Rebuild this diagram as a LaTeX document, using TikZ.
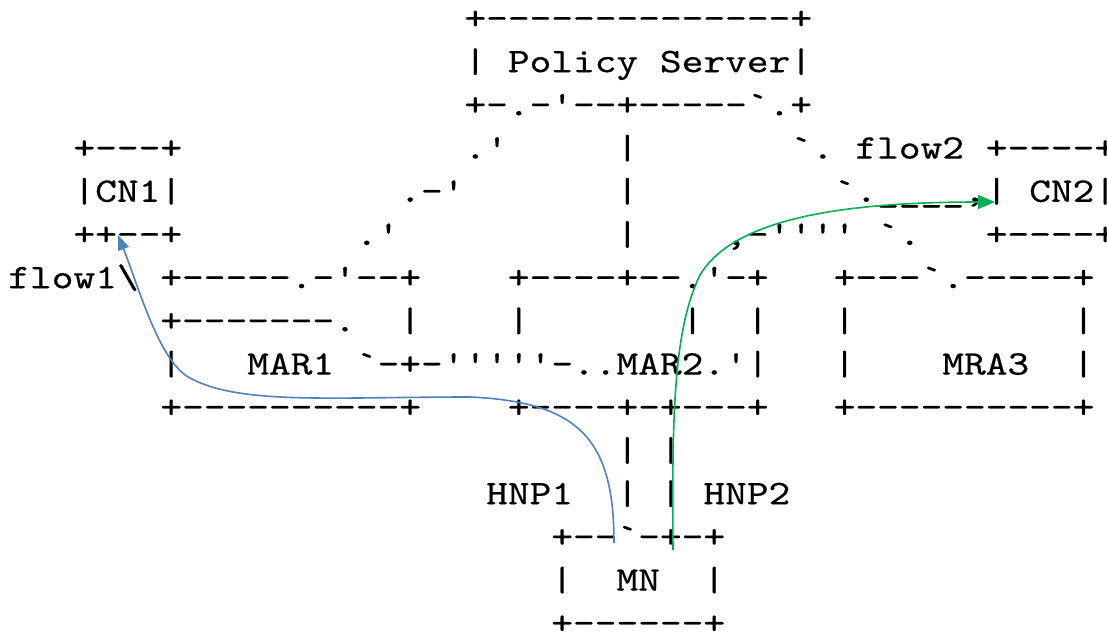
\documentclass[tikz,border=0pt]{standalone}
\usepackage{fontspec}
\setmonofont{lmmono10-regular.otf}[FakeBold=0.4]
\usetikzlibrary{arrows.meta}
\definecolor{flowblue}{HTML}{4F81BD}
\definecolor{flowgreen}{HTML}{00B050}
\tikzset{
  asc/.style={anchor=base west, inner sep=0pt, outer sep=0pt,
    font=\ttfamily\fontsize{34.48}{40}\selectfont},
  flowline/.style={line width=1.6pt},
  bluetip/.style={-{Triangle[length=15pt,width=11pt]}},
  greentip/.style={-{Triangle[length=17pt,width=14pt]}}
}
\newcommand\seg[4]{\node[asc] (#1) at ({8.34+21.72*#2},{29+43.2*#3}) {\scalebox{1.2}[1]{#4}};}
\begin{document}
\begin{tikzpicture}[x=1pt,y=-1pt]
\useasboundingbox (0,0) rectangle (1107,634);
% Policy Server
\seg{ps0}{21}{0}{+--------------+}
\seg{ps1}{21}{1}{|~Policy~Server|}
\seg{ps2}{21}{2}{+-.-'--+-----`.+}
% row 3
\seg{cn1a}{3}{3}{+---+}
\seg{l3a}{21}{3}{.'}
\seg{l3b}{28}{3}{|}
\seg{l3c}{36}{3}{`.}
\seg{fl2}{39}{3}{flow2}
\seg{cn2a}{45}{3}{+----+}
% row 4
\seg{cn1b}{3}{4}{|CN1|}
\seg{l4a}{18}{4}{.-'}
\seg{l4b}{28}{4}{|}
\seg{l4c}{38}{4}{`.\_\_\_\_,}
\seg{cn2b}{45}{4}{|~CN2|}
% row 5
\seg{cn1c}{3}{5}{++--+}
\seg{l5a}{16}{5}{.'}
\seg{l5b}{28}{5}{|}
\seg{l5c}{33}{5}{,-''''}
\seg{l5d}{40}{5}{`.}
\seg{cn2c}{45}{5}{+----+}
% row 6
\seg{fl1}{0}{6}{flow1\textbackslash}
\seg{mar1a}{7}{6}{+-----.-'--+}
\seg{mar2a}{23}{6}{+----+--.'-+}
\seg{mra3a}{38}{6}{+---`.-----+}
% row 7
\seg{mar1b}{7}{7}{+-------.}
\seg{l7a}{18}{7}{|}
\seg{l7b}{23}{7}{|}
\seg{l7c}{31}{7}{|}
\seg{l7d}{34}{7}{|}
\seg{l7e}{38}{7}{|}
\seg{l7f}{49}{7}{|}
% row 8
\seg{l8a}{7}{8}{|}
\seg{mar1}{11}{8}{MAR1}
\seg{mar2}{16}{8}{`-+-'''''-..MAR2.'|}
\seg{l8b}{38}{8}{|}
\seg{mra3}{43}{8}{MRA3}
\seg{l8c}{49}{8}{|}
% row 9
\seg{mar1c}{7}{9}{+----------+}
\seg{mar2c}{23}{9}{+----+-+---+}
\seg{mra3c}{38}{9}{+----------+}
% row 10-11
\seg{l10a}{28}{10}{|}
\seg{l10b}{30}{10}{|}
\seg{hnp1}{22}{11}{HNP1}
\seg{l11a}{28}{11}{|}
\seg{l11b}{30}{11}{|}
\seg{hnp2}{32}{11}{HNP2}
% MN
\seg{mn0}{25}{12}{+--`-+-+}
\seg{mn1}{25}{13}{|~~MN~~|}
\seg{mn2}{25}{14}{+------+}
% flows
\coordinate (mnb) at (614,543);
\coordinate (cn1t) at (118,235);
\coordinate (mng) at (673,550);
\coordinate (cn2t) at (995,202);
\draw[flowline, bluetip, flowblue] (mnb) .. controls (614,440) and (580,402) .. (470,397)
  .. controls (330,397) and (240,405) .. (190,378)
  .. controls (159,362) and (138,285) .. (cn1t);
\draw[flowline, greentip, flowgreen] (mng) .. controls (672,420) and (673,330) .. (700,275)
  .. controls (730,225) and (820,202) .. (cn2t);
\end{tikzpicture}
\end{document}
